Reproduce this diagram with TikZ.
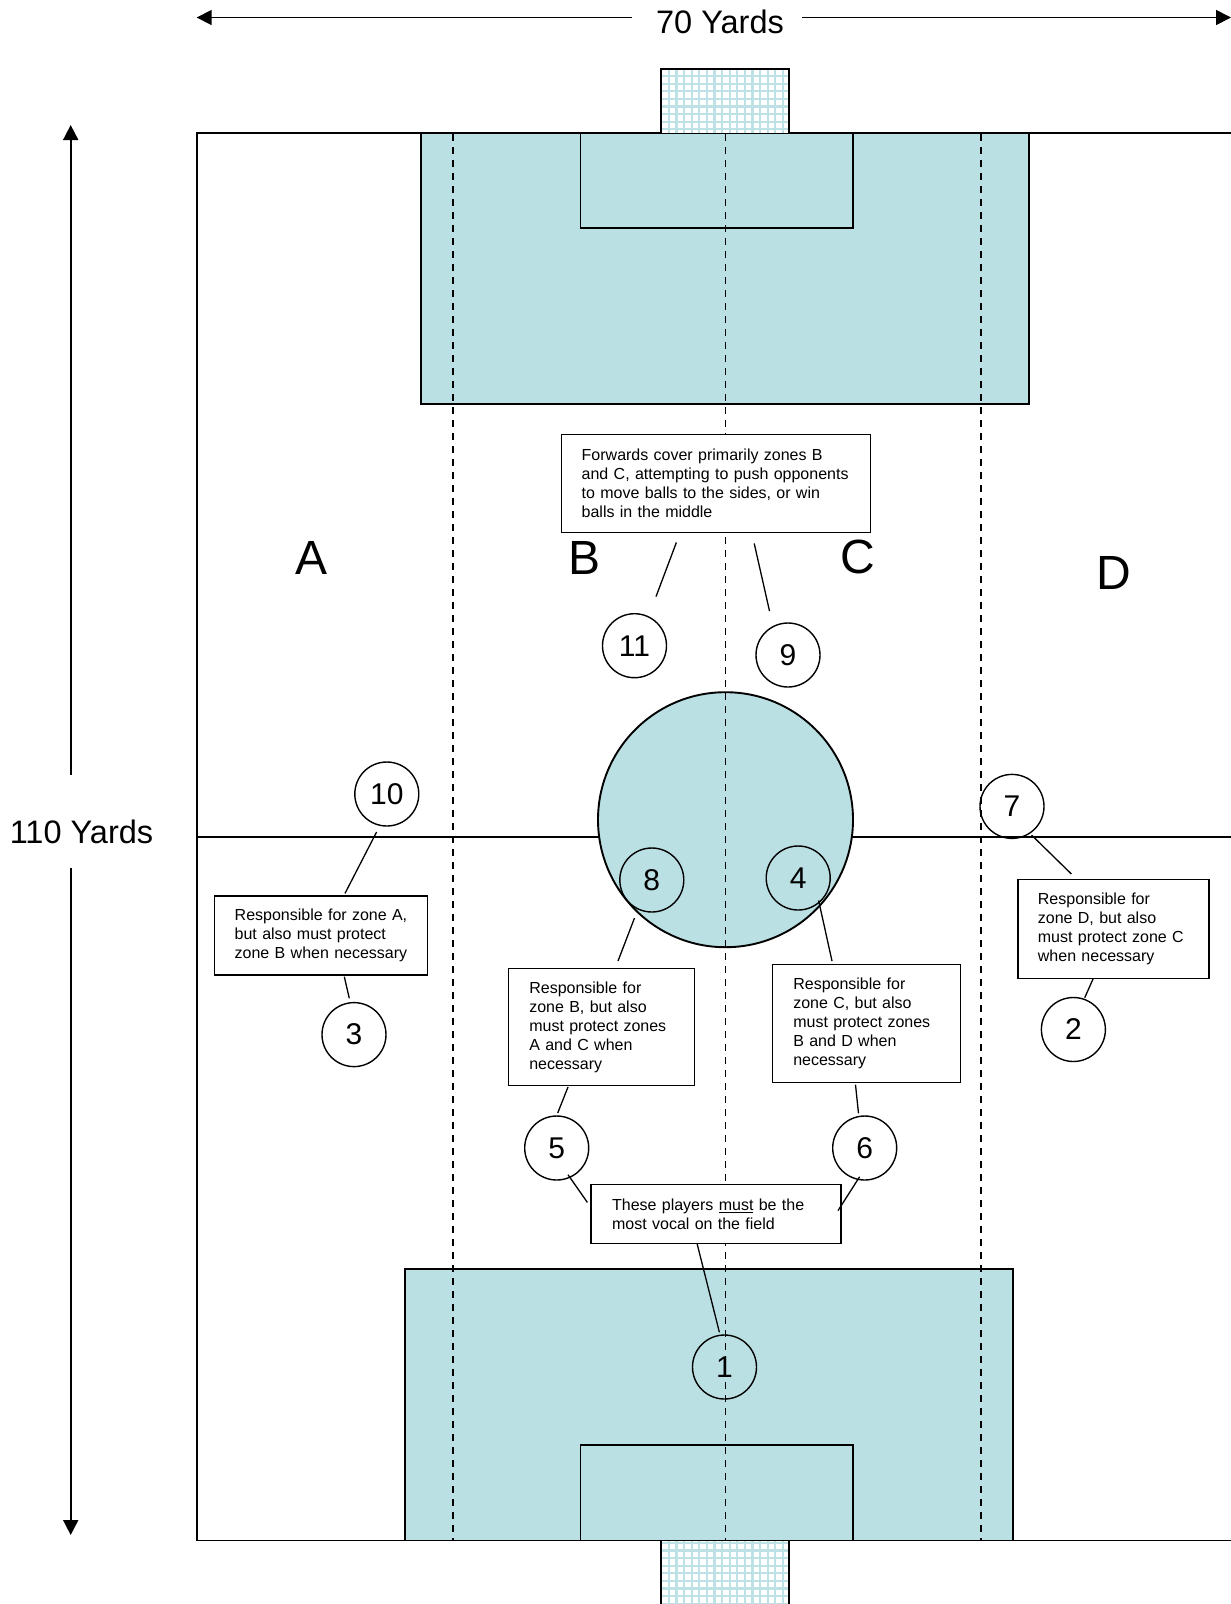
\documentclass[tikz,border=0pt]{standalone}
\usepackage{fontspec}
\setmainfont{Liberation Sans}
\usetikzlibrary{arrows.meta}

\definecolor{pitchblue}{RGB}{187,224,227}
\definecolor{netblue}{RGB}{190,225,229}

\begin{document}
\begin{tikzpicture}[x=1pt, y=-1pt, >={Triangle[length=15pt,width=15pt]},
    fieldline/.style={line width=1.9pt},
    zoneline/.style={line width=1.7pt, dash pattern=on 6.5pt off 6.5pt},
    callout/.style={line width=1.3pt},
    dimarrow/.style={line width=1.8pt, ->},
    player/.style={circle, draw, line width=1.4pt, minimum size=64pt, inner sep=0pt,
        font=\fontsize{30}{36}\selectfont},
    infobox/.style={draw, fill=white, line width=1.4pt, anchor=north west, align=left,
        inner ysep=0pt, font=\fontsize{16}{19}\selectfont},
    zonelabel/.style={font=\fontsize{48}{58}\selectfont},
    dimlabel/.style={font=\fontsize{32.5}{38}\selectfont}]
    \useasboundingbox (0,0) rectangle (1231,1604);

    % field and penalty areas
    \draw[fieldline] (196.7,132.7) rectangle (1260,1540.5);
    \draw[fieldline, fill=pitchblue] (420.7,132.7) rectangle (1028.6,404.2);
    \draw[fieldline] (580.5,132.7) rectangle (853,228.3);
    \draw[fieldline, fill=pitchblue] (405.2,1269) rectangle (1013.1,1540.5);
    \draw[fieldline] (580.5,1445) rectangle (853,1540.5);

    % halfway line and centre circle
    \draw[fieldline] (196.7,837.3) -- (1260,837.3);
    \draw[fieldline, fill=pitchblue] (725.5,819.7) circle[radius=127.5pt];

    % zone boundaries
    \foreach \zx in {452.8, 725.5, 981.3}
        \draw[zoneline] (\zx,134) -- (\zx,1539.5);

    % goals
    \fill[white] (660.7,69) rectangle (789,132.7);
    \draw[netblue, line width=2.2pt, step=7.6pt] (660.7,69) grid (789,132.7);
    \draw[fieldline] (660.7,132.7) -- (660.7,69) -- (789,69) -- (789,132.7);
    \fill[white] (660.7,1540.5) rectangle (789,1610);
    \draw[netblue, line width=2.2pt, step=7.6pt] (660.7,1540.5) grid (789,1610);
    \draw[fieldline] (660.7,1610) -- (660.7,1540.5);
    \draw[fieldline] (789,1610) -- (789,1540.5);

    % dimensions
    \node[dimlabel] (width) at (720,22) {70 Yards};
    \node[dimlabel] (length) at (81.5,832) {110 Yards};
    \coordinate (wl) at (196.7,17.5);
    \coordinate (wlin) at (632,17.5);
    \coordinate (wr) at (1231,17.5);
    \coordinate (wrin) at (802,17.5);
    \coordinate (lt) at (70.7,125);
    \coordinate (ltin) at (70.7,774.6);
    \coordinate (lb) at (70.7,1535);
    \coordinate (lbin) at (70.7,867.5);
    \draw[dimarrow] (wlin) -- (wl);
    \draw[dimarrow] (wrin) -- (wr);
    \draw[dimarrow] (ltin) -- (lt);
    \draw[dimarrow] (lbin) -- (lb);

    % zones
    \node[zonelabel] (zoneA) at (312,557.7) {A};
    \node[zonelabel] (zoneB) at (584.3,557.7) {B};
    \node[zonelabel] (zoneC) at (857.5,556.7) {C};
    \node[zonelabel] (zoneD) at (1113.4,573) {D};

    % players
    \node[player] (p11) at (634.5,645.7) {11};
    \node[player] (p9) at (788,655) {9};
    \node[player] (p10) at (386.8,794) {10};
    \node[player] (p7) at (1012,806.4) {7};
    \node[player] (p8) at (651.8,880) {8};
    \node[player] (p4) at (798.2,878) {4};
    \node[player] (p3) at (354,1034.6) {3};
    \node[player] (p2) at (1073.4,1029.5) {2};
    \node[player] (p5) at (556.7,1148) {5};
    \node[player] (p6) at (864.7,1148) {6};
    \node[player] (p1) at (724.5,1367) {1};

    % notes
    \node[infobox, text width=269pt, inner xsep=20pt, minimum height=98pt] (fwd) at (561,434)
        {Forwards cover primarily zones B\\and C, attempting to push opponents\\to move balls to the sides, or win\\balls in the middle};
    \node[infobox, text width=173pt, inner xsep=20pt, minimum height=79pt] (noteA) at (214,895.4)
        {Responsible for zone A,\\but also must protect\\zone B when necessary};
    \node[infobox, text width=144pt, inner xsep=21pt, minimum height=117pt] (noteB) at (507.6,968)
        {Responsible for\\zone B, but also\\must protect zones\\A and C when\\necessary};
    \node[infobox, text width=146pt, inner xsep=21pt, minimum height=117.5pt] (noteC) at (771.6,964)
        {Responsible for\\zone C, but also\\must protect zones\\B and D when\\necessary};
    \node[infobox, text width=151pt, inner xsep=20pt, minimum height=99pt] (noteD) at (1017.2,879)
        {Responsible for\\zone D, but also\\must protect zone C\\when necessary};
    \node[infobox, text width=208pt, inner xsep=21pt, minimum height=59pt] (vocal) at (590.4,1184)
        {These players \underline{must} be the\\most vocal on the field};

    % callout lines
    \coordinate (f11) at (676.4,542.4);  \coordinate (t11) at (656,596.6);
    \coordinate (f9) at (754.2,543.4);   \coordinate (t9) at (769.5,611);
    \coordinate (f10) at (376.6,832);    \coordinate (t10) at (345,893.4);
    \coordinate (f3) at (344.3,976.7);   \coordinate (t3) at (349.3,998.3);
    \coordinate (f8) at (634.5,918);     \coordinate (t8) at (618,961);
    \coordinate (f4) at (818.6,900.5);   \coordinate (t4) at (832,961);
    \coordinate (f7) at (1031.5,835);    \coordinate (t7) at (1071.4,874);
    \coordinate (f2) at (1093,979);      \coordinate (t2) at (1084.7,997.7);
    \coordinate (f5) at (568,1087);      \coordinate (t5) at (557.7,1113);
    \coordinate (f6) at (855.5,1084.7);  \coordinate (t6) at (858.5,1113.4);
    \coordinate (g5) at (568,1174.7);    \coordinate (h5) at (587.4,1202.4);
    \coordinate (g6) at (859.6,1176.8);  \coordinate (h6) at (838,1210.6);
    \coordinate (f1) at (697,1243.3);    \coordinate (t1) at (719.4,1332.3);
    \foreach \a/\b in {f11/t11, f9/t9, f10/t10, f3/t3, f8/t8, f4/t4, f7/t7,
                       f2/t2, f5/t5, f6/t6, g5/h5, g6/h6, f1/t1}
        \draw[callout] (\a) -- (\b);
\end{tikzpicture}
\end{document}
